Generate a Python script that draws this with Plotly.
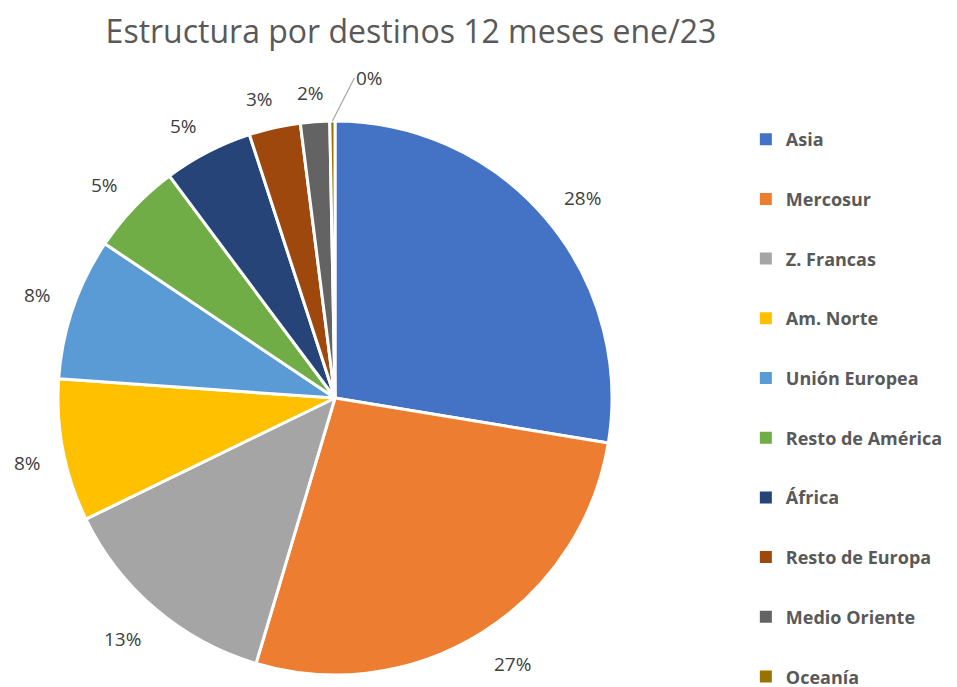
import math
import plotly.graph_objects as go

categories = ["Asia", "Mercosur", "Z. Francas", "Am. Norte", "Unión Europea",
              "Resto de América", "África", "Resto de Europa", "Medio Oriente", "Oceanía"]
shares = [27.6, 27.0, 13.2, 8.3, 8.3, 5.4, 5.2, 3.0, 1.7, 0.3]
colors = ["#4472C4", "#ED7D31", "#A5A5A5", "#FFC000", "#5B9BD5",
          "#70AD47", "#264478", "#9E480E", "#636363", "#997300"]
title_text = "Estructura por destinos 12 meses ene/23"

W, H = 957, 687
cx, cy, R = 327, 390, 277  # pie centre / radius in pixels (page has an 8px body offset)

fig = go.Figure()
fig.add_trace(go.Pie(
    labels=categories, values=shares, sort=False, direction="clockwise", rotation=0,
    marker=dict(colors=colors, line=dict(color="white", width=3)),
    textinfo="none", showlegend=False, hoverinfo="label+percent",
    domain=dict(x=[(cx - R) / W, (cx + R) / W], y=[(H - cy - R) / H, (H - cy + R) / H]),
))
for i, (c, col) in enumerate(zip(categories, colors)):
    fig.add_trace(go.Scatter(
        x=[None], y=[None], mode="markers", name=c, legendgroup=f"g{i}",
        marker=dict(symbol="square", size=9, color=col),
    ))

# data labels placed outside each slice (Excel-like best fit), derived from the shares
FS = 19
label_font = dict(family="Open Sans", size=FS, color="#404040")
total = sum(shares)
cum = 0.0
annotations = []
clamp = lambda t: max(-1.0, min(1.0, t))
for v in shares:
    mid = (cum + v / 2) / total * 2 * math.pi
    cum += v
    s, c = math.sin(mid), math.cos(mid)
    txt = f"{round(v / total * 100):.0f}%"
    if v / total < 0.01:
        ex, ey = cx + s * R, cy - c * R
        annotations.append(dict(
            x=ex / W, y=1 - ey / H, xref="paper", yref="paper", text=txt,
            showarrow=True, arrowhead=0, arrowwidth=1.2, arrowcolor="#A6A6A6",
            ax=22, ay=-43, xanchor="left", yanchor="middle", font=label_font))
        continue
    w = (0.572 * (len(txt) - 1) + 0.82) * FS
    d = R + 23
    px = cx + s * d + clamp(3.5 * s) * w / 2
    py = cy - c * d - clamp(3 * c) * 9 + 3
    annotations.append(dict(
        x=px / W, y=1 - py / H, xref="paper", yref="paper", text=txt, showarrow=False,
        xanchor="center", yanchor="middle", font=label_font))

fig.update_layout(
    width=W, height=H,
    margin=dict(l=0, r=0, t=0, b=0),
    paper_bgcolor="white", plot_bgcolor="white",
    title=dict(text=title_text, x=0.4211, xanchor="center", y=0.966, yanchor="middle",
               font=dict(family="Open Sans", size=32, color="#595959")),
    xaxis=dict(visible=False), yaxis=dict(visible=False),
    legend=dict(x=0.771, xanchor="left", y=0, yanchor="bottom",
                font=dict(family="Open Sans", size=18, color="#595959", weight="bold"),
                tracegroupgap=33.3, itemsizing="constant", bgcolor="rgba(0,0,0,0)"),
    annotations=annotations,
)
fig.write_html("out.html")
